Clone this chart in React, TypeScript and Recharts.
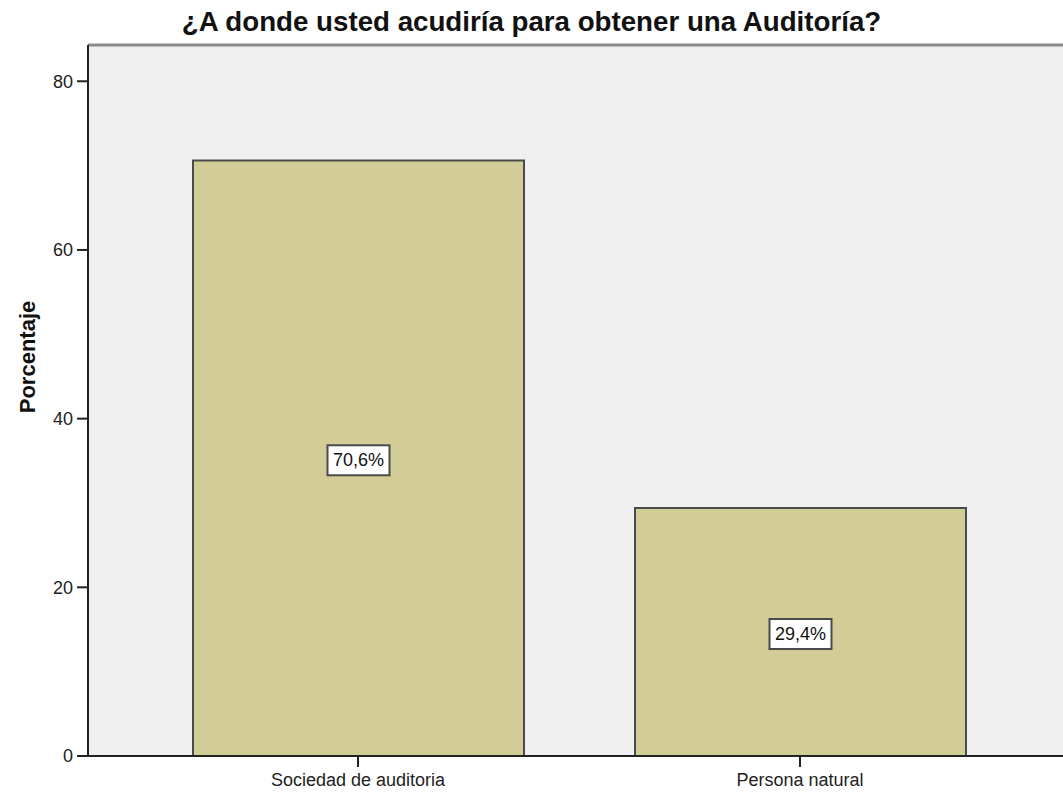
import React from 'react';
import {
  BarChart,
  Bar,
  XAxis,
  YAxis,
  CartesianGrid,
  ReferenceLine,
  LabelList,
} from 'recharts';

const categories = ['Sociedad de auditoria', 'Persona natural'];
const percentages = [70.6, 29.4];
const yTicks = [0, 20, 40, 60, 80];
const yMax = 84.3;
const title = '¿A donde usted acudiría para obtener una Auditoría?';
const yLabel = 'Porcentaje';

const data = categories.map((c, i) => ({ name: c, value: percentages[i] }));

const FONT = '"Liberation Sans", Arial, Helvetica, sans-serif';

const ValueBox = (props: any) => {
  const { x, y, width, height, value } = props;
  const cx = x + width / 2;
  const cy = y + height / 2 + 2;
  const w = 62;
  const h = 30;
  const text = `${Number(value).toFixed(1).replace('.', ',')}%`;
  return (
    <g>
      <rect x={cx - w / 2} y={cy - h / 2} width={w} height={h} fill="#ffffff" stroke="#4a4a4a" strokeWidth={2} />
      <text x={cx} y={cy} textAnchor="middle" dominantBaseline="central" fontSize={18} fontFamily={FONT} fill="#111">
        {text}
      </text>
    </g>
  );
};

export default function App() {
  return (
    <div style={{ position: 'absolute', left: 0, top: 0, width: 1063, height: 792, background: '#fff', fontFamily: FONT }}>
      <div
        style={{
          position: 'absolute',
          left: 0,
          top: 5,
          width: 1063,
          textAlign: 'center',
          fontSize: 27.7,
          fontWeight: 'bold',
          color: '#111',
          lineHeight: '34px',
          whiteSpace: 'nowrap',
        }}
      >
        {title}
      </div>
      <div
        style={{
          position: 'absolute',
          left: 28,
          top: 357,
          transform: 'translate(-50%, -50%) rotate(-90deg)',
          fontSize: 22,
          fontWeight: 'bold',
          color: '#111',
          whiteSpace: 'nowrap',
        }}
      >
        {yLabel}
      </div>
      <BarChart
        width={1063}
        height={792}
        data={data}
        margin={{ top: 45, right: 0, bottom: 0, left: 0 }}
        style={{ position: 'absolute', left: 0, top: 0 }}
      >
        <CartesianGrid horizontal={false} vertical={false} fill="#F0F0F0" stroke="none" />
        <XAxis
          dataKey="name"
          padding={{ left: 49, right: 42 }}
          tickSize={11}
          tickMargin={6}
          axisLine={{ stroke: '#222', strokeWidth: 2 }}
          tickLine={{ stroke: '#222', strokeWidth: 2 }}
          tick={{ fontSize: 18, fill: '#222', fontFamily: FONT }}
          height={36}
        />
        <YAxis
          width={88}
          domain={[0, yMax]}
          ticks={yTicks}
          allowDataOverflow
          tickSize={11}
          tickMargin={4}
          axisLine={{ stroke: '#222', strokeWidth: 2 }}
          tickLine={{ stroke: '#222', strokeWidth: 2 }}
          tick={{ fontSize: 18, fill: '#222', fontFamily: FONT }}
        />
        <ReferenceLine y={yMax} stroke="#8a8a8a" strokeWidth={3} ifOverflow="visible" />
        <Bar dataKey="value" fill="#D2CD97" stroke="#4a4a4a" strokeWidth={2} barSize={331} isAnimationActive={false}>
          <LabelList dataKey="value" content={<ValueBox />} />
        </Bar>
      </BarChart>
    </div>
  );
}
